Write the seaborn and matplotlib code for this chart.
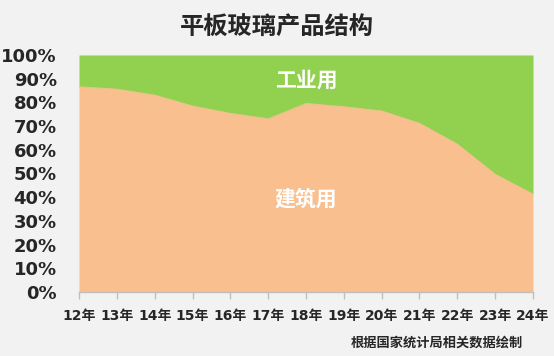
import matplotlib
matplotlib.use("Agg")
import matplotlib.pyplot as plt
import seaborn as sns
import pandas as pd

years = ["12年", "13年", "14年", "15年", "16年", "17年", "18年",
         "19年", "20年", "21年", "22年", "23年", "24年"]
construction = [86.6, 85.6, 83.1, 78.5, 75.4, 73.1, 79.6,
                78.2, 76.4, 71.2, 62.4, 49.7, 41.3]
industrial = [100 - v for v in construction]
yticks = [0, 10, 20, 30, 40, 50, 60, 70, 80, 90, 100]

sns.set_theme(style="white")
plt.rcParams["font.family"] = ["DejaVu Sans", "Noto Sans CJK SC"]

bg = "#F2F2F2"
c_orange = "#F9BF8F"
c_green = "#92D050"

df = pd.DataFrame({"x": range(len(years)), "建筑用": construction, "工业用": industrial})

fig = plt.figure(figsize=(5.54, 3.56), dpi=100, facecolor=bg)
ax = fig.add_axes([79 / 554, 64 / 356, 454 / 554, 237 / 356])
ax.set_facecolor(bg)

ax.stackplot(df["x"], df["建筑用"], df["工业用"], colors=[c_orange, c_green], linewidth=0)
sns.lineplot(data=df, x="x", y="建筑用", ax=ax, color=c_orange, linewidth=0.6)

ax.set_xlim(0, len(years) - 1)
ax.set_ylim(0, 100)
ax.set_xticks(range(len(years)))
ax.set_xticklabels(years, fontsize=10, fontweight="bold",
                   family=["DejaVu Sans", "Noto Sans CJK SC"])
ax.set_yticks(yticks)
ax.set_yticklabels([f"{v}%" for v in yticks], fontsize=13, fontweight="bold")
ax.tick_params(axis="y", length=0, pad=16)
ax.tick_params(axis="x", length=5, width=1, color="#BFBFBF", pad=7.5, direction="out", bottom=True)
ax.set_xlabel("")
ax.set_ylabel("")
for s in ["left", "top", "right"]:
    ax.spines[s].set_visible(False)
ax.spines["bottom"].set_color("#BFBFBF")
ax.spines["bottom"].set_linewidth(1)

ax.text(6, 89.3, "工业用", ha="center", va="center", color="white", fontsize=15,
        fontweight="bold", family=["Noto Sans CJK SC"])
ax.text(6, 39.0, "建筑用", ha="center", va="center", color="white", fontsize=15,
        fontweight="bold", family=["Noto Sans CJK SC"])

fig.text(277 / 554, 1 - 28 / 356, "平板玻璃产品结构", ha="center", va="center",
         fontsize=17.5, fontweight="heavy", family=["Noto Sans CJK SC"])
fig.text(437 / 554, 1 - 343 / 356, "根据国家统计局相关数据绘制", ha="center", va="center",
         fontsize=9.5, fontweight="bold", family=["Noto Sans CJK SC"])

fig.savefig("out.png", dpi=100, facecolor=bg)
